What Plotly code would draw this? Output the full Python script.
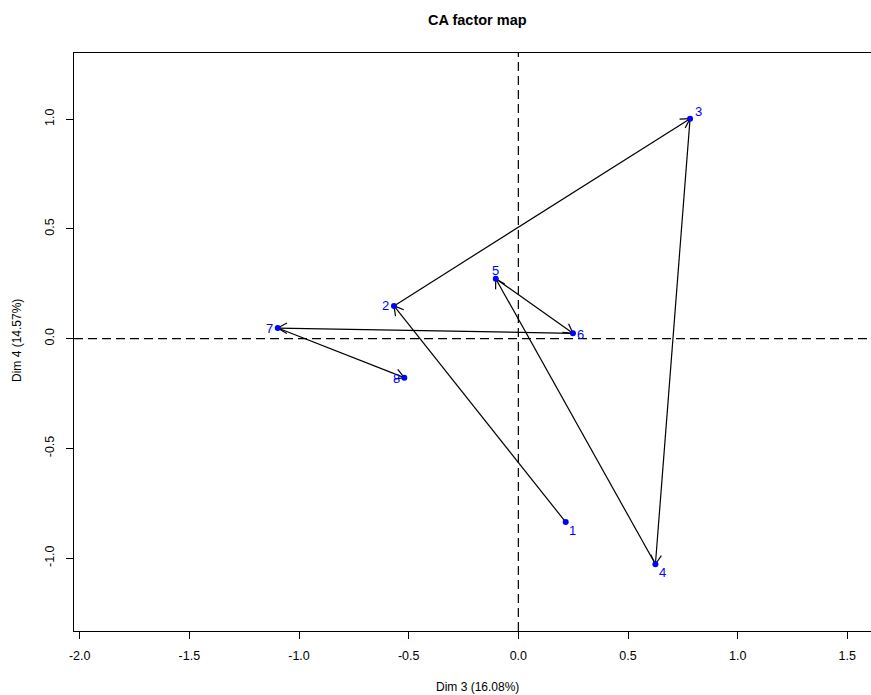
import numpy as np
import plotly.graph_objects as go

labels = ["1", "2", "3", "4", "5", "6", "7", "8"]
dim3 = [0.216, -0.567, 0.783, 0.625, -0.103, 0.249, -1.097, -0.520]
dim4 = [-0.836, 0.149, 1.002, -1.028, 0.273, 0.024, 0.048, -0.178]
x_ticks = [-2.0, -1.5, -1.0, -0.5, 0.0, 0.5, 1.0, 1.5]
y_ticks = [-1.0, -0.5, 0.0, 0.5, 1.0]

# label placement offsets (pixels: right, up) - style only
label_shift = [(7, -8), (-8, 0), (8, 7), (7, -8), (0, 8), (8, -1), (-8, 0), (-8, -1)]

W, H = 871, 695
ml, mr, mt, mb = 74, 0, 53, 64
x_range = [-2.026, 1.608]
y_range = [-1.332, 1.301]

fig = go.Figure()

# arrows (shafts + open V heads), derived from data
pxx = (W - ml - mr) / (x_range[1] - x_range[0])
pxy = (H - mt - mb) / (y_range[1] - y_range[0])
head_px = 10.5
ang = np.deg2rad(30)
ax_all, ay_all = [], []
for i in range(len(dim3) - 1):
    x0, y0, x1, y1 = dim3[i], dim4[i], dim3[i + 1], dim4[i + 1]
    ax_all += [x0, x1, None]
    ay_all += [y0, y1, None]
    dxp = (x1 - x0) * pxx
    dyp = (y1 - y0) * pxy
    th = np.arctan2(dyp, dxp)
    for s in (1, -1):
        hx = x1 - head_px * np.cos(th + s * ang) / pxx
        hy = y1 - head_px * np.sin(th + s * ang) / pxy
        ax_all += [hx, x1, None]
        ay_all += [hy, y1, None]

fig.add_trace(go.Scatter(x=ax_all, y=ay_all, mode="lines",
                         line=dict(color="black", width=1.2),
                         hoverinfo="skip", showlegend=False))

fig.add_trace(go.Scatter(x=dim3, y=dim4, mode="markers",
                         marker=dict(color="#0000FF", size=6),
                         showlegend=False))

fig.add_shape(type="line", xref="x", yref="paper", x0=0, x1=0, y0=0, y1=1,
              line=dict(color="black", width=1.2, dash="9px,5px"), layer="below")
fig.add_shape(type="line", xref="paper", yref="y", x0=0, x1=1, y0=0, y1=0,
              line=dict(color="black", width=1.2, dash="9px,5px"), layer="below")

font = dict(family="Liberation Sans, Arial, sans-serif", color="black", size=12)

annotations = []
for lab, x, y, (sx, sy) in zip(labels, dim3, dim4, label_shift):
    annotations.append(dict(text=lab, x=x, y=y, xref="x", yref="y",
                            xshift=sx, yshift=sy, showarrow=False,
                            xanchor="center", yanchor="middle",
                            font=dict(color="#0000FF", size=13)))

annotations += [
    dict(text="<b>CA factor map</b>", xref="paper", yref="paper",
         x=(477 - ml) / (W - ml - mr), y=(H - mb - 20) / (H - mt - mb),
         xanchor="center", yanchor="middle", showarrow=False,
         font=dict(size=14.5)),
    dict(text="Dim 3 (16.08%)", xref="paper", yref="paper",
         x=(477 - ml) / (W - ml - mr), y=(H - mb - 687) / (H - mt - mb),
         xanchor="center", yanchor="middle", showarrow=False,
         font=dict(size=12)),
    dict(text="Dim 4 (14.57%)", xref="paper", yref="paper",
         x=(17 - ml) / (W - ml - mr), y=(H - mb - 340) / (H - mt - mb),
         xanchor="center", yanchor="middle", showarrow=False,
         textangle=-90, font=dict(size=12)),
]

fig.update_layout(
    width=W, height=H,
    margin=dict(l=ml, r=mr, t=mt, b=mb, autoexpand=False),
    paper_bgcolor="white", plot_bgcolor="white",
    font=font,
    showlegend=False,
    xaxis=dict(range=x_range, tickvals=x_ticks, automargin=False,
               ticktext=[f"{v:.1f}" for v in x_ticks],
               showgrid=False, zeroline=False, showline=True, mirror=True,
               linecolor="black", linewidth=1.3, ticks="outside", ticklen=7,
               tickcolor="black", tickwidth=1.3, tickfont=dict(size=12.5),
               ticklabelstandoff=6),
    yaxis=dict(range=y_range, tickvals=y_ticks, automargin=False,
               ticktext=[f"{v:.1f}" for v in y_ticks], tickangle=-90,
               showgrid=False, zeroline=False, showline=True, mirror=False,
               linecolor="black", linewidth=1.3, ticks="outside", ticklen=7,
               tickcolor="black", tickwidth=1.3, tickfont=dict(size=12.5),
               ticklabelstandoff=7),
    annotations=annotations,
)

fig.write_html("out.html", config={"displayModeBar": False},
               post_script="document.body.style.margin='0';document.body.style.overflow='hidden';")
